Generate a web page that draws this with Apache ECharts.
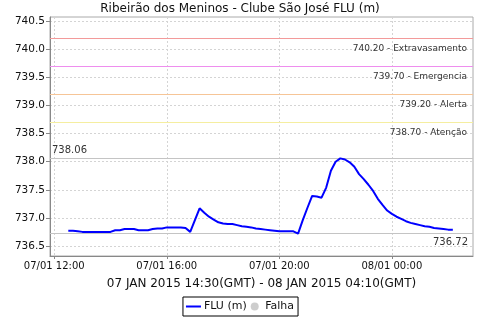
<!DOCTYPE html>
<html>
<head>
<meta charset="utf-8">
<script src="https://cdn.jsdelivr.net/npm/echarts@6/dist/echarts.min.js"></script>
<style>
html,body{margin:0;padding:0;background:#fff;}
#chart{width:480px;height:320px;}
</style>
</head>
<body>
<div id="chart"></div>
<script>
// ---- data (local time, 10-minute readings from 07/01 12:30 to 08/01 02:10) ----
const startTime = [2015, 0, 7, 12, 30];
const stepMinutes = 10;
const fluValues = [
  736.77, 736.77, 736.76, 736.75, 736.75, 736.75, 736.75, 736.75, 736.75, 736.75,
  736.78, 736.78, 736.80, 736.80, 736.80, 736.78, 736.78, 736.78, 736.80, 736.81,
  736.81, 736.83, 736.83, 736.83, 736.83, 736.82, 736.75, 736.96, 737.17, 737.09,
  737.02, 736.97, 736.92, 736.90, 736.89, 736.89, 736.87, 736.85, 736.84, 736.83,
  736.81, 736.80, 736.79, 736.78, 736.77, 736.76, 736.76, 736.76, 736.76, 736.72,
  736.96, 737.18, 737.39, 737.38, 737.36, 737.54, 737.84, 738.00, 738.06, 738.04,
  737.99, 737.91, 737.78, 737.69, 737.59, 737.48, 737.34, 737.23, 737.13, 737.07,
  737.02, 736.98, 736.94, 736.91, 736.89, 736.87, 736.85, 736.84, 736.82, 736.81,
  736.80, 736.79, 736.79
];
const thresholdValues = [740.20, 739.70, 739.20, 738.70];
const thresholdNames = ['Extravasamento', 'Emergencia', 'Alerta', 'Atenção'];
const thresholdColors = ['#f39a9a', '#ee8eee', '#f6c597', '#f5eea0'];
const maxValue = 738.06;
const minValue = 736.72;
const titleText = 'Ribeirão dos Meninos - Clube São José FLU (m)';
const periodText = '07 JAN 2015 14:30(GMT) - 08 JAN 2015 04:10(GMT)';
const seriesNames = ['FLU (m)', 'Falha'];
const axisMin = new Date(2015, 0, 7, 11, 51).getTime();
const axisMax = new Date(2015, 0, 8, 2, 53).getTime();
const yMin = 736.32, yMax = 740.58;

const t0 = new Date(startTime[0], startTime[1], startTime[2], startTime[3], startTime[4]).getTime();
const fluData = fluValues.map((v, i) => [t0 + i * stepMinutes * 60000, v]);

function pad(n){ return (n < 10 ? '0' : '') + n; }
function fmtTime(v){
  const d = new Date(v);
  return pad(d.getDate()) + '/' + pad(d.getMonth() + 1) + ' ' + pad(d.getHours()) + ':' + pad(d.getMinutes());
}

const markData = thresholdValues.map((v, i) => ({
  yAxis: v,
  lineStyle: { color: thresholdColors[i], type: 'solid', width: 1 },
  label: {
    show: true, position: 'insideEndBottom',
    formatter: v.toFixed(2) + ' - ' + thresholdNames[i],
    color: '#333', fontSize: 9, fontFamily: 'DejaVu Sans', distance: [6, 6]
  }
}));
markData.push({
  yAxis: maxValue,
  lineStyle: { color: '#c4c4c4', type: 'solid', width: 1 },
  label: { show: true, position: 'insideStartTop', formatter: maxValue.toFixed(2),
    color: '#333', fontSize: 10, fontFamily: 'DejaVu Sans', distance: [2, 3] }
});
markData.push({
  yAxis: minValue,
  lineStyle: { color: '#c4c4c4', type: 'solid', width: 1 },
  label: { show: true, position: 'insideEndBottom', formatter: minValue.toFixed(2),
    color: '#333', fontSize: 10, fontFamily: 'DejaVu Sans', distance: [5, 4] }
});

const chart = echarts.init(document.getElementById('chart'), null, { renderer: 'canvas' });
chart.setOption({
  animation: false,
  backgroundColor: '#fff',
  title: {
    text: titleText, left: 'center', top: 3, padding: 0,
    textStyle: { fontSize: 12, fontWeight: 'normal', color: '#111', fontFamily: 'DejaVu Sans' }
  },
  legend: {
    data: [
      { name: seriesNames[0], icon: 'path://M0,0L30,0L30,4L0,4Z' },
      { name: seriesNames[1], icon: 'circle' }
    ],
    left: 'center', top: 297,
    borderColor: '#000', borderWidth: 1, borderRadius: 0,
    padding: [4, 4, 4, 3], itemGap: 4, itemWidth: 15, itemHeight: 8,
    textStyle: { fontSize: 11, color: '#111', fontFamily: 'DejaVu Sans', padding: [0, 0, 0, -2] }
  },
  grid: {
    left: 50, right: 7, top: 17, bottom: 64,
    show: true, borderColor: '#aaa', borderWidth: 1, backgroundColor: '#fff'
  },
  xAxis: {
    type: 'time', min: axisMin, max: axisMax,
    minInterval: 4 * 3600000, maxInterval: 4 * 3600000,
    name: periodText, nameLocation: 'middle', nameGap: 22,
    nameTextStyle: { fontSize: 12, color: '#111', fontFamily: 'DejaVu Sans' },
    axisLine: { lineStyle: { color: '#888' } },
    axisTick: { show: true, length: 3, lineStyle: { color: '#888' } },
    axisLabel: { formatter: fmtTime, fontSize: 10, color: '#111', fontFamily: 'DejaVu Sans', margin: 5,
      showMinLabel: false, showMaxLabel: false, hideOverlap: false },
    splitLine: { show: true, lineStyle: { color: '#d4d4d4', type: [2, 2], width: 1 } },
    minorTick: { show: false }
  },
  yAxis: {
    type: 'value', min: yMin, max: yMax, splitNumber: 8,
    axisLine: { show: true, lineStyle: { color: '#888' } },
    axisTick: { show: true, length: 4, lineStyle: { color: '#888' } },
    axisLabel: {
      formatter: v => (Math.abs(v * 2 - Math.round(v * 2)) < 1e-6 ? v.toFixed(1) : ''),
      fontSize: 10.5, color: '#111', fontFamily: 'DejaVu Sans', margin: 5,
      showMinLabel: false, showMaxLabel: false
    },
    splitLine: { show: true, lineStyle: { color: '#d4d4d4', type: [2, 2], width: 1 } }
  },
  series: [
    {
      name: seriesNames[0], type: 'line', data: fluData,
      symbol: 'none', showSymbol: false,
      lineStyle: { color: '#0000ff', width: 2 }, itemStyle: { color: '#0000ff' },
      z: 5,
      markLine: { silent: true, symbol: 'none', animation: false, data: markData }
    },
    {
      name: seriesNames[1], type: 'scatter', data: [],
      itemStyle: { color: '#c0c0c0' }
    }
  ]
});
</script>
</body>
</html>
